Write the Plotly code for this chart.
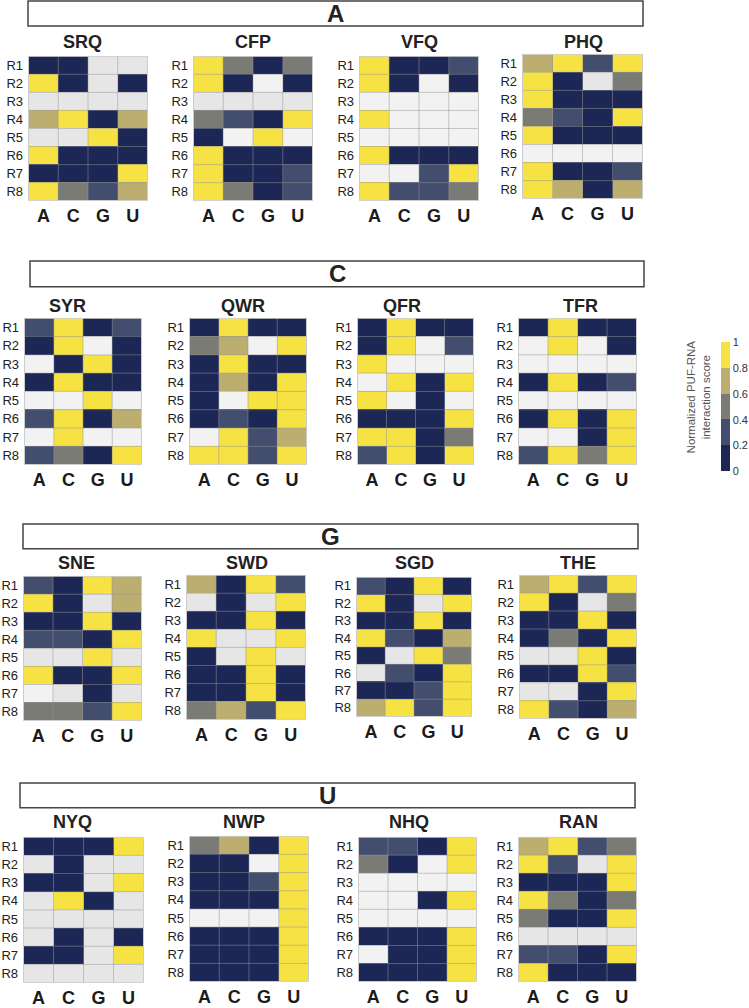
import plotly.graph_objects as go

W, H = 749, 1008

# ---------------- data ----------------
# scores 0..1 ; not-detected cells: -1 = blank (pale), -2 = blank (grey)
nucleotides = ["A", "C", "G", "U"]
rows = ["R1", "R2", "R3", "R4", "R5", "R6", "R7", "R8"]
groups = ["A", "C", "G", "U"]
group_panels = [["SRQ", "CFP", "VFQ", "PHQ"],
                ["SYR", "QWR", "QFR", "TFR"],
                ["SNE", "SWD", "SGD", "THE"],
                ["NYQ", "NWP", "NHQ", "RAN"]]

SRQ = [[0.1, 0.1, -2, -2], [0.9, 0.1, -2, 0.1], [-2, -2, -2, -2], [0.7, 0.9, 0.1, 0.7],
       [-2, -2, 0.9, 0.1], [0.9, 0.1, 0.1, 0.1], [0.1, 0.1, 0.1, 0.9], [0.9, 0.5, 0.3, 0.7]]
CFP = [[0.9, 0.5, 0.1, 0.5], [0.9, 0.1, -1, 0.1], [-2, -2, -2, -2], [0.5, 0.3, 0.1, 0.9],
       [0.1, -1, 0.9, -1], [0.9, 0.1, 0.1, 0.1], [0.9, 0.1, 0.1, 0.3], [0.9, 0.5, 0.1, 0.3]]
VFQ = [[0.9, 0.1, 0.1, 0.3], [0.9, 0.1, -1, 0.1], [-1, -1, -1, -1], [0.9, -1, -1, -1],
       [-1, -1, -1, -1], [0.9, 0.1, 0.1, 0.1], [-1, -1, 0.3, 0.9], [0.9, 0.3, 0.3, 0.5]]
PHQ = [[0.7, 0.9, 0.3, 0.9], [0.9, 0.1, -2, 0.5], [0.9, 0.1, 0.1, 0.1], [0.5, 0.3, 0.1, 0.9],
       [0.9, 0.1, 0.1, 0.1], [-1, -1, -1, -1], [0.9, 0.1, 0.1, 0.3], [0.9, 0.7, 0.1, 0.7]]
SYR = [[0.3, 0.9, 0.1, 0.3], [0.1, 0.9, -1, 0.1], [-1, 0.1, 0.9, 0.1], [0.1, 0.9, 0.1, 0.1],
       [-1, -1, 0.9, -1], [0.3, 0.9, 0.1, 0.7], [-1, 0.9, -1, -1], [0.3, 0.5, 0.1, 0.9]]
QWR = [[0.1, 0.9, 0.1, 0.1], [0.5, 0.7, -1, 0.9], [0.1, 0.9, 0.1, 0.1], [0.1, 0.7, 0.1, 0.9],
       [0.1, -1, 0.9, 0.9], [0.1, 0.3, 0.1, 0.9], [-1, 0.9, 0.3, 0.7], [0.9, 0.9, 0.3, 0.9]]
QFR = [[0.1, 0.9, 0.1, 0.1], [0.1, 0.9, -1, 0.3], [0.9, -1, -1, -1], [-1, 0.9, 0.1, 0.9],
       [0.9, -1, 0.1, -1], [0.1, 0.1, 0.1, 0.9], [0.9, 0.9, 0.1, 0.5], [0.3, 0.9, 0.1, 0.9]]
TFR = [[0.1, 0.9, 0.1, 0.1], [-1, 0.9, -1, 0.1], [-1, -1, -1, -1], [0.1, 0.9, 0.1, 0.3],
       [-1, -1, -1, -1], [0.1, 0.9, 0.1, 0.9], [-1, -1, 0.1, 0.9], [0.3, 0.9, 0.5, 0.9]]
SNE = [[0.3, 0.1, 0.9, 0.7], [0.9, 0.1, -2, 0.7], [0.1, 0.1, 0.9, 0.1], [0.3, 0.3, 0.1, 0.9],
       [-2, -2, 0.9, -2], [0.9, 0.1, 0.1, 0.9], [-1, -2, 0.1, -2], [0.5, 0.5, 0.3, 0.9]]
SWD = [[0.7, 0.1, 0.9, 0.3], [-2, 0.1, -2, 0.9], [0.1, 0.1, 0.9, 0.1], [0.9, -2, -2, 0.9],
       [0.1, -2, 0.9, -2], [0.1, 0.1, 0.9, 0.1], [0.1, 0.1, 0.9, 0.1], [0.5, 0.7, 0.3, 0.9]]
SGD = [[0.3, 0.1, 0.9, 0.1], [0.9, 0.1, -2, 0.9], [0.1, 0.1, 0.9, 0.1], [0.9, 0.3, 0.1, 0.7],
       [0.1, -2, 0.9, 0.5], [-2, 0.3, 0.1, 0.9], [0.1, 0.1, 0.3, 0.9], [0.7, 0.9, 0.3, 0.9]]
THE = [[0.7, 0.9, 0.3, 0.9], [0.9, 0.1, -2, 0.5], [0.1, 0.1, 0.9, 0.1], [0.1, 0.5, 0.1, 0.9],
       [-2, -2, 0.9, 0.1], [0.1, 0.1, 0.9, 0.3], [-2, -2, 0.1, 0.9], [0.9, 0.3, 0.1, 0.7]]
NYQ = [[0.1, 0.1, 0.1, 0.9], [-2, 0.1, -2, -2], [0.1, 0.1, -2, 0.9], [-2, 0.9, 0.1, -2],
       [-2, -2, -2, -2], [-2, 0.1, -2, 0.1], [0.1, 0.1, -2, 0.9], [-2, -2, -2, -2]]
NWP = [[0.5, 0.7, 0.1, 0.9], [0.1, 0.1, -1, 0.9], [0.1, 0.1, 0.3, 0.9], [0.1, 0.1, 0.1, 0.9],
       [-1, -1, -1, 0.9], [0.1, 0.1, 0.1, 0.9], [0.1, 0.1, 0.1, 0.9], [0.1, 0.1, 0.1, 0.9]]
NHQ = [[0.3, 0.3, 0.1, 0.9], [0.5, 0.1, -1, 0.9], [-1, -1, -1, -1], [-1, -1, 0.1, 0.9],
       [-1, -1, -1, -1], [0.1, 0.1, 0.1, 0.9], [-1, 0.1, 0.1, 0.9], [0.1, 0.1, 0.1, 0.9]]
RAN = [[0.7, 0.9, 0.3, 0.5], [0.9, 0.3, -2, 0.9], [0.1, 0.1, 0.1, 0.9], [0.9, 0.5, 0.1, 0.5],
       [0.5, 0.1, 0.1, 0.9], [-2, -2, -2, -2], [0.3, 0.3, 0.1, 0.9], [0.9, 0.1, 0.1, 0.1]]

panel_data = {"SRQ": SRQ, "CFP": CFP, "VFQ": VFQ, "PHQ": PHQ,
              "SYR": SYR, "QWR": QWR, "QFR": QFR, "TFR": TFR,
              "SNE": SNE, "SWD": SWD, "SGD": SGD, "THE": THE,
              "NYQ": NYQ, "NWP": NWP, "NHQ": NHQ, "RAN": RAN}

cbar_ticks = [0, 0.2, 0.4, 0.6, 0.8, 1]
cbar_labels = ["0", "0.2", "0.4", "0.6", "0.8", "1"]

# ---------------- layout (pixels) ----------------
group_boxes = [(28, 1, 643, 26), (30, 262, 644, 288), (23, 526, 638, 551), (20, 786, 635, 811)]
title_y = [42, 307, 565, 825]
panel_px = [
    [(28, 148, 56, 202), (193, 313, 56, 202), (359, 479, 56, 202), (522, 643, 54, 200)],
    [(24, 142, 319, 467), (189, 307, 319, 467), (357, 474, 319, 467), (518, 637, 319, 467)],
    [(23, 142, 578, 724), (186, 306, 577, 723), (356, 472, 579, 720), (519, 637, 577, 722)],
    [(23, 144, 840, 987), (189, 309, 839, 986), (358, 477, 840, 986), (518, 637, 840, 986)],
]
title_x = [[82, 253, 419, 583], [67, 243, 402, 580], [76, 247, 414, 578], [72, 244, 409, 578]]

NAVY, GBLUE, GREY, KHAKI, YEL = "#1d2756", "#434d6d", "#7b7b76", "#bcae6e", "#f6e242"
colorscale = [[0, NAVY], [0.2, NAVY], [0.2, GBLUE], [0.4, GBLUE], [0.4, GREY],
              [0.6, GREY], [0.6, KHAKI], [0.8, KHAKI], [0.8, YEL], [1, YEL]]
na_scale = [[0, "#e6e6e6"], [0.5, "#e6e6e6"], [0.5, "#f2f2f2"], [1, "#f2f2f2"]]
FONT = "Liberation Sans, Arial, Helvetica, sans-serif"

px_x = lambda v: v / W
px_y = lambda v: 1 - v / H

fig = go.Figure()
layout = dict(width=W, height=H, margin=dict(l=0, r=0, t=0, b=0),
              paper_bgcolor="white", plot_bgcolor="white", showlegend=False,
              font=dict(family=FONT, color="#222"))
shapes, annotations = [], []

idx = 0
for g, gname in enumerate(groups):
    x0, y0, x1, y1 = group_boxes[g]
    shapes.append(dict(type="rect", xref="paper", yref="paper",
                       x0=px_x(x0), x1=px_x(x1), y0=px_y(y1), y1=px_y(y0),
                       line=dict(color="#444", width=1.5), fillcolor="rgba(0,0,0,0)"))
    annotations.append(dict(xref="paper", yref="paper", x=px_x((x0 + x1) / 2), y=px_y((y0 + y1) / 2),
                            text="<b>%s</b>" % gname, showarrow=False,
                            font=dict(size=24, color="#222", family=FONT),
                            xanchor="center", yanchor="middle"))
    for p, pname in enumerate(group_panels[g]):
        idx += 1
        sfx = "" if idx == 1 else str(idx)
        vals = panel_data[pname]
        z_main = [[v if v >= 0 else None for v in r] for r in vals]
        z_na = [[(0 if v == -2 else 1) if v < 0 else None for v in r] for r in vals]
        fig.add_trace(go.Heatmap(z=z_na, x=nucleotides, y=rows, colorscale=na_scale,
                                 zmin=0, zmax=1, showscale=False, hoverinfo="skip",
                                 xaxis="x" + sfx, yaxis="y" + sfx))
        fig.add_trace(go.Heatmap(z=z_main, x=nucleotides, y=rows, coloraxis="coloraxis",
                                 xaxis="x" + sfx, yaxis="y" + sfx,
                                 hovertemplate=pname + " %{y} %{x}: %{z}<extra></extra>"))
        a0, a1, b0, b1 = panel_px[g][p]
        layout["xaxis" + sfx] = dict(domain=[px_x(a0), px_x(a1)], anchor="y" + sfx,
                                     showgrid=False, zeroline=False, ticks="",
                                     tickfont=dict(size=18, weight="bold", color="#1a1a1a"),
                                     fixedrange=True, ticklabelstandoff=2)
        layout["yaxis" + sfx] = dict(domain=[px_y(b1), px_y(b0)], anchor="x" + sfx,
                                     autorange="reversed", showgrid=False, zeroline=False,
                                     ticks="", tickfont=dict(size=13, color="#222"),
                                     fixedrange=True, ticklabelstandoff=4)
        xr, yr = "x" + sfx, "y" + sfx
        nc, nr = len(nucleotides), len(rows)
        for k in range(1, nc):
            shapes.append(dict(type="line", xref=xr, yref=yr, x0=k - 0.5, x1=k - 0.5,
                               y0=-0.5, y1=nr - 0.5, layer="above",
                               line=dict(color="rgba(150,150,150,0.5)", width=1)))
        for k in range(1, nr):
            shapes.append(dict(type="line", xref=xr, yref=yr, x0=-0.5, x1=nc - 0.5,
                               y0=k - 0.5, y1=k - 0.5, layer="above",
                               line=dict(color="rgba(150,150,150,0.5)", width=1)))
        shapes.append(dict(type="rect", xref=xr, yref=yr, x0=-0.5, x1=nc - 0.5,
                           y0=-0.5, y1=nr - 0.5, layer="above",
                           line=dict(color="#cccccc", width=1)))
        annotations.append(dict(xref="paper", yref="paper", x=px_x(title_x[g][p]),
                                y=px_y(title_y[g]), text="<b>%s</b>" % pname, showarrow=False,
                                font=dict(size=18, color="#222", family=FONT),
                                xanchor="center", yanchor="middle"))

layout["coloraxis"] = dict(
    cmin=0, cmax=1, colorscale=colorscale,
    colorbar=dict(x=px_x(721), xanchor="left", y=px_y(408.5), yanchor="middle",
                  len=129, lenmode="pixels", thickness=9, thicknessmode="pixels",
                  outlinewidth=0, xpad=0, ypad=0, ticks="",
                  tickvals=cbar_ticks, ticktext=cbar_labels,
                  tickfont=dict(size=11, color="#333", family=FONT)))
annotations.append(dict(xref="paper", yref="paper", x=px_x(698), y=px_y(399),
                        text="Normalized PUF-RNA<br>interaction score", showarrow=False,
                        textangle=-90, font=dict(size=11.5, color="#555", family=FONT),
                        xanchor="center", yanchor="middle"))
layout["shapes"] = shapes
layout["annotations"] = annotations
fig.update_layout(**layout)
fig.write_html("out.html", config={"displayModeBar": False},
               post_script="document.body.style.margin='0';"
                           "document.documentElement.style.overflow='hidden';")
